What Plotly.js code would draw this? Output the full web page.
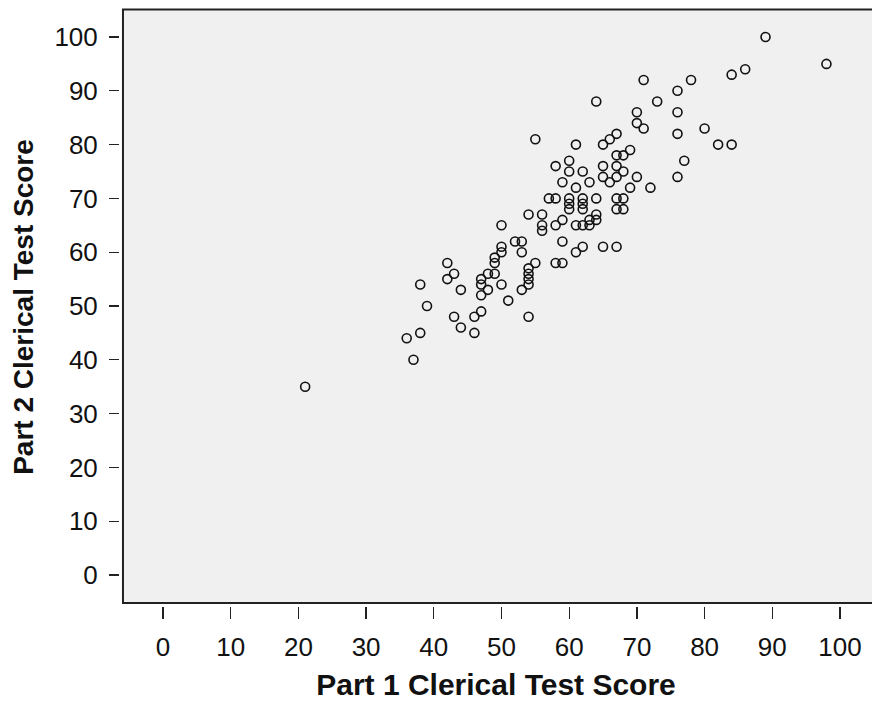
<!DOCTYPE html>
<html>
<head>
<meta charset="utf-8">
<script src="https://cdn.plot.ly/plotly-3.0.1.min.js"></script>
<style>
html,body{margin:0;padding:0;background:#fff;}
#chart{width:872px;height:702px;}
</style>
</head>
<body>
<div id="chart"></div>
<script>
// Part 1 clerical test scores (x) and Part 2 clerical test scores (y)
const part1 = [
  21,36,37,38,38,39,42,43,42,44,43,44,46,46,47,54,47,47,47,48,48,49,49,49,50,51,53,
  54,54,54,54,55,50,52,53,53,50,50,55,58,57,58,54,56,56,58,59,56,61,62,63,63,59,61,
  62,65,67,58,59,60,60,62,63,59,61,60,60,62,64,60,62,62,64,64,67,68,67,68,61,65,66,
  67,67,68,69,65,65,66,67,68,67,70,69,72,64,70,70,71,71,73,76,76,76,78,80,82,84,84,
  86,89,98,77,76
];
const part2 = [
  35,44,40,45,54,50,58,56,55,53,48,46,48,45,49,48,55,54,52,53,56,56,59,58,54,51,53,
  57,56,55,54,58,65,62,62,60,61,60,81,76,70,70,67,67,64,65,66,65,65,65,66,65,62,60,
  61,61,61,58,58,77,75,75,73,73,72,70,69,70,70,68,68,69,67,66,70,70,68,68,80,80,81,
  82,78,78,79,76,74,73,76,75,74,74,72,72,88,86,84,83,92,88,90,86,82,92,83,80,80,93,
  94,100,95,77,74
];
const xTicks = [0,10,20,30,40,50,60,70,80,90,100];
const yTicks = [0,10,20,30,40,50,60,70,80,90,100];
const xTitle = 'Part 1 Clerical Test Score';
const yTitle = 'Part 2 Clerical Test Score';

const trace = {
  x: part1, y: part2,
  type: 'scatter', mode: 'markers',
  marker: {symbol: 'circle-open', size: 9, color: '#111', line: {width: 1.6, color: '#111'}},
  hoverinfo: 'x+y', showlegend: false
};

const fam = 'Liberation Sans, Arial, sans-serif';

const layout = {
  width: 872, height: 702,
  margin: {l: 120, r: 0, t: 8, b: 96, pad: 0},
  paper_bgcolor: '#ffffff',
  plot_bgcolor: '#ffffff',
  xaxis: {
    range: [-6.35, 104.73], tickvals: xTicks, ticktext: xTicks.map(String),
    ticks: 'outside', ticklen: 12, tickwidth: 1.3, tickcolor: '#222',
    showline: false, showgrid: false, zeroline: false,
    tickfont: {family: fam, size: 26, color: '#111'}, ticklabelstandoff: 6,
    title: {text: xTitle, font: {family: fam, size: 30, color: '#111', weight: 'bold'}, standoff: 12}
  },
  yaxis: {
    range: [-5.76, 105.39], tickvals: yTicks, ticktext: yTicks.map(String),
    ticks: 'outside', ticklen: 10, tickwidth: 1.3, tickcolor: '#222',
    showline: false, showgrid: false, zeroline: false,
    tickfont: {family: fam, size: 26, color: '#111'}, ticklabelstandoff: 6,
    title: {text: yTitle, font: {family: fam, size: 28, color: '#111', weight: 'bold'}, standoff: 12}
  },
  shapes: [{
    type: 'rect', xref: 'x', yref: 'y', layer: 'below',
    x0: -5.91, x1: 106, y0: -5.2, y1: 105.1,
    fillcolor: '#f0f0f0', line: {color: '#222', width: 2}
  }]
};

Plotly.newPlot('chart', [trace], layout, {displayModeBar: false, staticPlot: true});
</script>
</body>
</html>
